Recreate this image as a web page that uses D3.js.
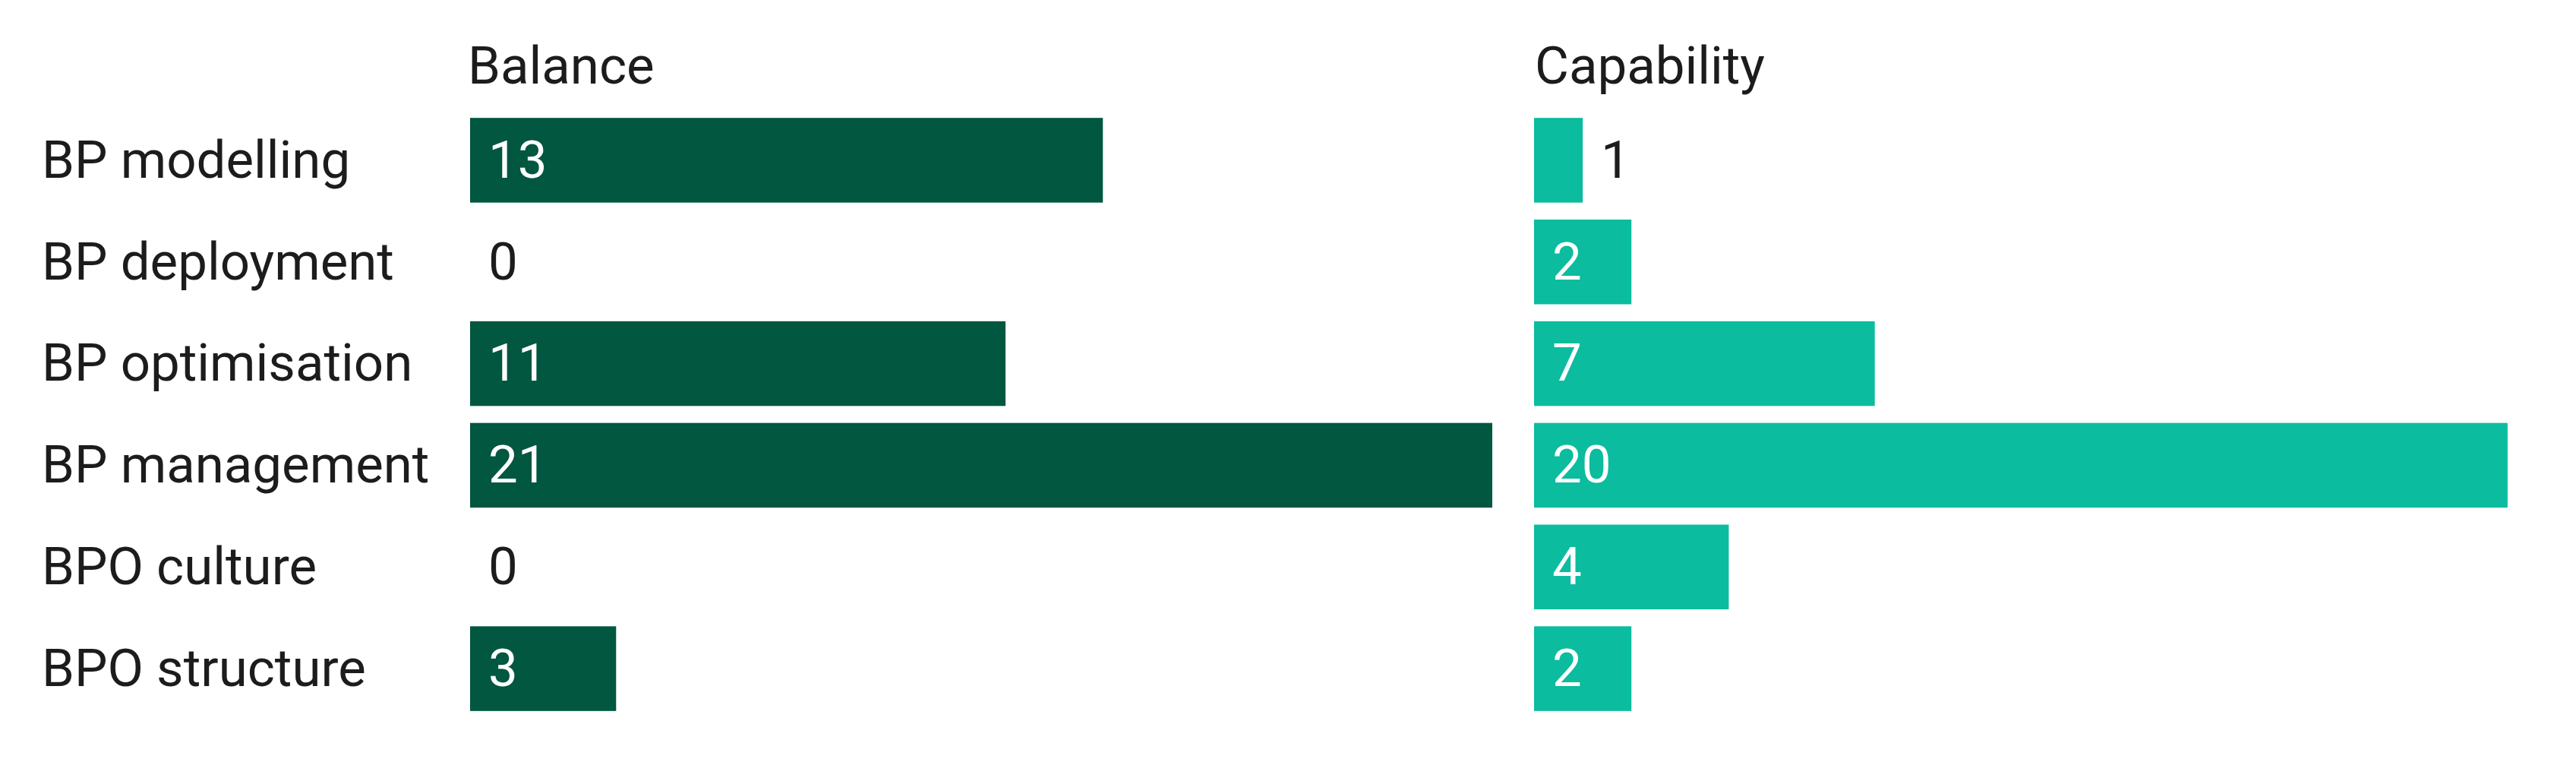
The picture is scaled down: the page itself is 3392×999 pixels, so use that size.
<!DOCTYPE html>
<html>
<head>
<meta charset="utf-8">
<script src="https://cdn.jsdelivr.net/npm/d3@7"></script>
<style>
  html, body { margin: 0; padding: 0; background: #ffffff; }
  svg { display: block; }
  text { font-family: Roboto, "Noto Sans", sans-serif; }
</style>
</head>
<body>
<svg id="chart" width="3392" height="999"></svg>
<script>
const categories = ["BP modelling", "BP deployment", "BP optimisation", "BP management", "BPO culture", "BPO structure"];
const seriesNames = ["Balance", "Capability"];
const balanceValues = [13, 0, 11, 21, 0, 3];
const capabilityValues = [1, 2, 7, 20, 4, 2];
const seriesColors = ["#01573F", "#0BBC9F"];

const W = 3392, H = 999;
const svg = d3.select("#chart");
const fontSize = 69;
const textColor = "#1c1c1c";

const y = d3.scaleBand()
  .domain(categories)
  .range([144, 947])
  .paddingInner(0.167)
  .paddingOuter(0.0835);

const panelStarts = [619, 2020];
const titleOffsets = [-3, 1];
const panelWidth = 1346;
const maxVal = 21;

// category labels
svg.append("g").selectAll("text")
  .data(categories)
  .join("text")
  .attr("x", 55)
  .attr("y", d => y(d) + y.bandwidth() / 2)
  .attr("dy", "0.33em")
  .attr("font-size", fontSize)
  .attr("fill", textColor)
  .text(d => d);

const allValues = [balanceValues, capabilityValues];

seriesNames.forEach((name, si) => {
  const x = d3.scaleLinear().domain([0, maxVal]).range([panelStarts[si], panelStarts[si] + panelWidth]);
  const vals = allValues[si];
  const data = categories.map((c, i) => ({ c, v: vals[i] }));
  const g = svg.append("g");

  g.append("text")
    .attr("x", x(0) + titleOffsets[si])
    .attr("y", 110)
    .attr("font-size", fontSize)
    .attr("fill", textColor)
    .text(name);

  g.selectAll("rect")
    .data(data)
    .join("rect")
    .attr("x", x(0))
    .attr("y", d => y(d.c))
    .attr("width", d => x(d.v) - x(0))
    .attr("height", y.bandwidth())
    .attr("fill", seriesColors[si]);

  const pad = 24;
  g.selectAll("text.val")
    .data(data)
    .join("text")
    .attr("class", "val")
    .attr("font-size", fontSize)
    .attr("y", d => y(d.c) + y.bandwidth() / 2)
    .attr("dy", "0.33em")
    .each(function(d) {
      const t = d3.select(this).text(d.v);
      const w = this.getComputedTextLength();
      const barW = x(d.v) - x(0);
      const inside = d.v > 0 && (w + 2 * pad) <= barW;
      t.attr("x", inside ? x(0) + pad : x(d.v) + pad)
       .attr("fill", inside ? "#ffffff" : textColor);
    });
});
</script>
</body>
</html>
